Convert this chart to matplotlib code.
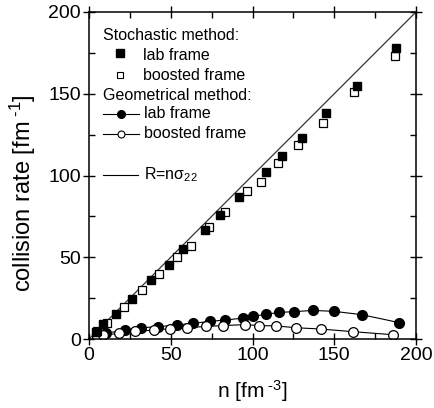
import matplotlib
matplotlib.use("Agg")
import matplotlib.pyplot as plt
from matplotlib.ticker import MultipleLocator

plt.rcParams['font.family'] = ['Liberation Sans', 'DejaVu Sans']
plt.rcParams['mathtext.fontset'] = 'custom'
plt.rcParams['mathtext.rm'] = 'Liberation Sans'
plt.rcParams['mathtext.it'] = 'Liberation Sans:italic'
plt.rcParams['mathtext.default'] = 'regular'

# Stochastic method, lab frame
stoch_lab_n = [4.5, 8.8, 16.3, 26.5, 38.1, 48.9, 57.7, 71, 80, 92, 108, 118.2, 130.4, 145.2, 163.7, 188]
stoch_lab_R = [4.0, 9.0, 15.3, 24.5, 35.9, 45.3, 54.9, 66.7, 75.8, 86.7, 102, 112, 122.7, 138, 154.7, 177.8]
# Stochastic method, boosted frame
stoch_boost_n = [5.1, 10.8, 21.6, 32.2, 42.8, 54, 62.4, 73.4, 83.2, 96.4, 105, 115.3, 128, 143.3, 162.3, 187]
stoch_boost_R = [4.9, 10, 19.4, 30, 39.5, 50.3, 57, 68.7, 77.9, 90.5, 96.2, 107.5, 118.7, 132, 151.3, 173]
# Geometrical method, lab frame
geo_lab_n = [5, 10.5, 21.8, 31.8, 42.4, 54, 63.8, 74.2, 83.2, 94.4, 100.5, 108, 116.2, 125.6, 136.8, 150, 166.7, 189.8]
geo_lab_R = [2.5, 3.5, 5.5, 6.9, 7.5, 8.6, 9.6, 10.8, 11.6, 12.8, 14, 15, 16.3, 16.7, 17.5, 16.9, 14.9, 10]
# Geometrical method, boosted frame
geo_boost_n = [4.7, 8.8, 18.3, 28.1, 39.8, 49.5, 60.1, 71.6, 81.7, 95.4, 104, 114.4, 126.6, 141.7, 161.2, 186.1]
geo_boost_R = [2.0, 2.4, 3.4, 4.6, 5.5, 6.3, 6.9, 7.7, 8.2, 8.8, 8.2, 8.0, 6.9, 6.1, 4.5, 2.6]
# R = n sigma_22 reference line
ref_n = [0, 200]
ref_R = [0, 200]

fig = plt.figure(figsize=(4.34, 4.08), dpi=100)
ax = fig.add_axes([89/434, 1-339/408, 327/434, 327/408])

ax.plot(ref_n, ref_R, color='#333333', lw=0.9, zorder=1)
ax.plot(geo_lab_n, geo_lab_R, '-o', color='black', lw=0.8, ms=7, mfc='black', zorder=2)
ax.plot(geo_boost_n, geo_boost_R, '-o', color='black', lw=0.8, ms=7, mfc='white', mew=0.9, zorder=2)
ax.plot(stoch_boost_n, stoch_boost_R, 's', color='black', ms=6.3, mfc='white', mew=0.9, ls='none', zorder=3)
ax.plot(stoch_lab_n, stoch_lab_R, 's', color='black', ms=6.3, mfc='black', ls='none', zorder=3)

ax.set_xlim(0, 200)
ax.set_ylim(0, 200)
ax.xaxis.set_major_locator(MultipleLocator(50))
ax.yaxis.set_major_locator(MultipleLocator(50))
ax.xaxis.set_minor_locator(MultipleLocator(25))
ax.yaxis.set_minor_locator(MultipleLocator(25))
ax.tick_params(which='major', direction='inout', length=8, width=1, top=True, right=True, labelsize=14, pad=2)
ax.tick_params(which='minor', direction='in', length=4, width=1, top=True, right=True)
for s in ax.spines.values():
    s.set_linewidth(1.1)

ax.set_xlabel(r'n [fm$^{\ \text{-3}}$]', fontsize=15, labelpad=10)
ax.set_ylabel(r'collision rate [fm$^{\ \text{-1}}$]', fontsize=17)
ax.yaxis.set_label_coords(-0.157, 0.445)

# legend (drawn in axes coordinates)
T = ax.transAxes
def yf(p):
    return (339 - p) / 327
def xf(p):
    return (p - 89) / 327
fs = 11.5
ax.text(xf(103), yf(35), 'Stochastic method:', transform=T, fontsize=fs, va='center')
ax.plot([xf(120)], [yf(53)], 's', transform=T, color='black', ms=5.5, mfc='black', clip_on=False)
ax.text(xf(143), yf(55), 'lab frame', transform=T, fontsize=fs, va='center')
ax.plot([xf(120)], [yf(75)], 's', transform=T, color='black', ms=4.5, mfc='white', mew=0.8, clip_on=False)
ax.text(xf(143), yf(76), 'boosted frame', transform=T, fontsize=fs, va='center')
ax.text(xf(103), yf(96), 'Geometrical method:', transform=T, fontsize=fs, va='center')
ax.plot([xf(103), xf(139)], [yf(114), yf(114)], '-', transform=T, color='black', lw=0.8)
ax.plot([xf(121)], [yf(114)], 'o', transform=T, color='black', ms=5.5, mfc='black')
ax.text(xf(144), yf(114), 'lab frame', transform=T, fontsize=fs, va='center')
ax.plot([xf(103), xf(139)], [yf(134), yf(134)], '-', transform=T, color='black', lw=0.8)
ax.plot([xf(121)], [yf(134)], 'o', transform=T, color='black', ms=5, mfc='white', mew=0.8)
ax.text(xf(144), yf(134), 'boosted frame', transform=T, fontsize=fs, va='center')
ax.plot([xf(103), xf(138)], [yf(175), yf(175)], '-', transform=T, color='black', lw=0.8)
ax.text(xf(144), yf(175), r'R=n$\sigma_{22}$', transform=T, fontsize=fs, va='center')

fig.savefig('out.png', dpi=100)
